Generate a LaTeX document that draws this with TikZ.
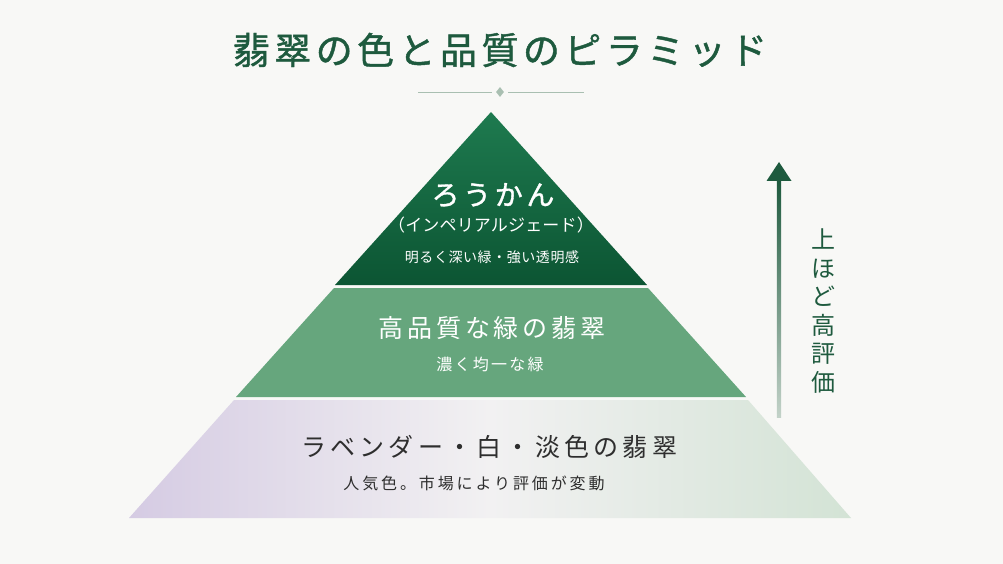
\documentclass[tikz,border=0pt]{standalone}
\usepackage{fontspec}
\setmainfont{Noto Sans CJK JP}
\usetikzlibrary{shapes.geometric}
\definecolor{bgc}{HTML}{F8F8F6}
\definecolor{titlec}{HTML}{1E5A3E}
\definecolor{topA}{HTML}{1E7A4F}
\definecolor{topB}{HTML}{0C5533}
\definecolor{midc}{HTML}{66A67D}
\definecolor{lavc}{HTML}{D5CBE3}
\definecolor{whc}{HTML}{F2F1F2}
\definecolor{pgc}{HTML}{D3E3D5}
\definecolor{txtc}{HTML}{2E2E2E}
\definecolor{ornc}{HTML}{A9BFB1}
\newcommand\jtx[3]{{\fontsize{#1}{#1}\selectfont\addfontfeatures{LetterSpace=#2}#3}}
\newcommand\jtxb[3]{{\fontsize{#1}{#1}\selectfont\addfontfeatures{LetterSpace=#2,FakeBold=1.2}#3}}
\tikzset{
  lbl/.style={inner sep=0pt, anchor=center},
  wlbl/.style={lbl, text=white},
  dlbl/.style={lbl, text=txtc},
}
\begin{document}
\begin{tikzpicture}[x=1pt,y=-1pt]
\fill[bgc] (0,0) rectangle (1003,564);
\useasboundingbox (0,0) rectangle (1003,564);
% title
\node[lbl, text=titlec] (title) at (500,50) {\jtxb{37}{12}{翡翠の色と品質のピラミッド}};
\node[diamond, fill=ornc, minimum width=8pt, minimum height=10pt, inner sep=0pt] (orn) at (500,92) {};
\coordinate (ornL) at (418,92);
\coordinate (ornR) at (584,92);
\draw[ornc, line width=0.8pt] (ornL) -- ([xshift=-4pt]orn.west);
\draw[ornc, line width=0.8pt] ([xshift=4pt]orn.east) -- (ornR);
% tiers
\shade[top color=topA, bottom color=topB] (491,112) -- (647,285) -- (335,285) -- cycle;
\fill[midc] (334,288) -- (648,288) -- (746,397) -- (236,397) -- cycle;
\shade[left color=lavc, right color=pgc, middle color=whc] (234,400) -- (748,400) -- (851,518) -- (129,518) -- cycle;
% texts
\node[wlbl] (t1) at (493,195) {\jtxb{28}{13}{ろうかん}};
\node[wlbl] (t1b) at (491,225) {\jtx{17}{1}{（インペリアルジェード）}};
\node[wlbl] (t1c) at (492,257) {\jtx{14}{4}{明るく深い緑・強い透明感}};
\node[wlbl] (t2) at (492,328) {\jtx{25}{15}{高品質な緑の翡翠}};
\node[wlbl] (t2b) at (490,364) {\jtx{16}{14}{濃く均一な緑}};
\node[dlbl] (t3) at (489,447) {\jtx{25}{17}{ラベンダー・白・淡色の翡翠}};
\node[dlbl] (t3b) at (474,483) {\jtx{16}{18}{人気色。市場により評価が変動}};
% arrow
\coordinate (aB) at (779,417);
\coordinate (aS) at (779,181);
\coordinate (aT) at (779,162);
\shade[top color=titlec, bottom color=ornc!70!white] ([xshift=-2.2pt]aS) rectangle ([xshift=2.2pt]aB);
\fill[titlec] (aT) -- ([xshift=12.5pt]aS) -- ([xshift=-12.5pt]aS) -- cycle;
\node[lbl, text=titlec, align=center, font=\fontsize{24}{28.5}\selectfont] (side) at (823,311) {上\\ほ\\ど\\高\\評\\価};
\end{tikzpicture}
\end{document}
